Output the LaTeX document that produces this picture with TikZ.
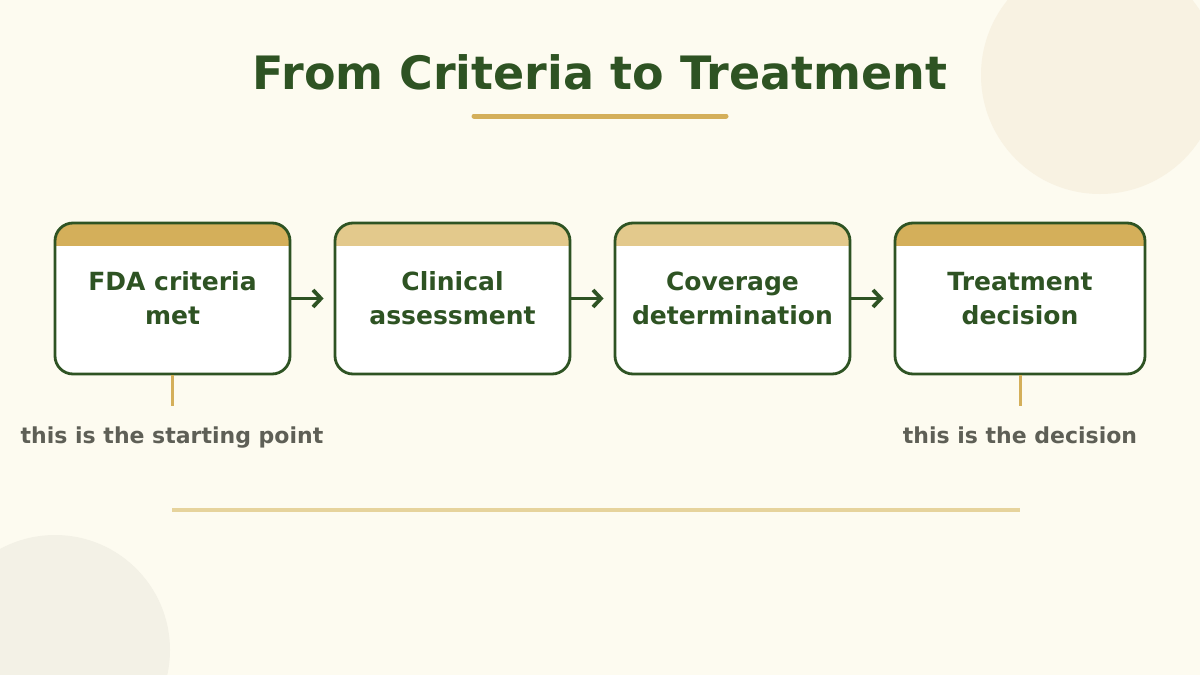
\documentclass[tikz,border=0pt]{standalone}
\usepackage{fontspec}
\setmainfont{DejaVu Sans}
\usepackage{tikz}
\usetikzlibrary{positioning}
\usetikzlibrary{arrows.meta}
\usetikzlibrary{calc}
\definecolor{bgcream}{HTML}{FDFBF0}
\definecolor{leafgreen}{HTML}{2E5323}
\definecolor{gold}{HTML}{D4AF5A}
\definecolor{palegold}{HTML}{E3C98C}
\definecolor{linegold}{HTML}{E6D39C}
\definecolor{notegray}{HTML}{5E5F56}
\definecolor{blobtop}{HTML}{F8F2E2}
\definecolor{blobbot}{HTML}{F3F1E6}
\tikzset{
  stagebox/.style={draw=leafgreen,line width=2.8pt,fill=white,rounded corners=18pt,
    minimum width=235pt,minimum height=151pt,inner sep=0pt,align=center,
    text=leafgreen,font=\fontsize{25}{34}\selectfont\bfseries},
  header/.style={path picture={\fill[#1,sharp corners] (path picture bounding box.north west)
    rectangle ([yshift=-23pt]path picture bounding box.north east);}},
  flow/.style={draw=leafgreen,line width=3.8pt,-{Straight Barb[length=8pt,width=17pt]},shorten >=10pt},
  tick/.style={draw=gold,line width=3pt},
  note/.style={text=notegray,anchor=base,font=\fontsize{22}{26}\selectfont\bfseries}
}

\begin{document}
\begin{tikzpicture}[x=1pt,y=-1pt]
  \useasboundingbox (0,0) rectangle (1200,675);
  % background and soft circles
  \fill[bgcream] (0,0) rectangle (1200,675);
  \fill[blobtop] (1100,75) circle (119pt);
  \fill[blobbot] (55,650) circle (115pt);
  % title
  \node[text=leafgreen,font=\fontsize{46}{52}\selectfont\bfseries] (title) at (600,72) {From Criteria to Treatment};
  \draw[gold,line width=5pt,line cap=round] (474,116) -- (726,116);
  % stages
  \node[stagebox,header=gold] (fda) at (172.5,298.5) {FDA criteria\\met};
  \node[stagebox,header=palegold] (clin) at (452.5,298.5) {Clinical\\assessment};
  \node[stagebox,header=palegold] (cover) at (732.5,298.5) {Coverage\\determination};
  \node[stagebox,header=gold,minimum width=250pt] (treat) at (1020,298.5) {Treatment\\decision};
  % arrows between stages
  \draw[flow] (fda) -- (clin);
  \draw[flow] (clin) -- (cover);
  \draw[flow] (cover) -- (treat);
  % notes under first and last stage
  \coordinate[below=31pt of fda.south] (fdatick);
  \coordinate[below=31pt of treat.south] (treattick);
  \draw[tick] (fda.south) -- (fdatick);
  \draw[tick] (treat.south) -- (treattick);
  \node[note] (startnote) at (172,443) {this is the starting point};
  \node[note] (endnote) at (1020,443) {this is the decision};
  % base line
  \coordinate (baseL) at (172,510);
  \coordinate (baseR) at (1020,510);
  \draw[linegold,line width=4pt] (baseL) -- (baseR);
\end{tikzpicture}
\end{document}
